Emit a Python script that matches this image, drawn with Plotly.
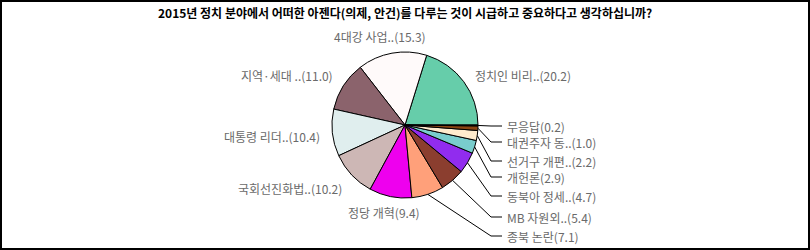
import math
import plotly.graph_objects as go

# ---- data ----
categories = ["정치인 비리..", "4대강 사업..", "지역·세대 ..", "대통령 리더..", "국회선진화법..",
              "정당 개혁", "종북 논란", "MB 자원외..", "동북아 정세..", "개헌론",
              "선거구 개편..", "대권주자 동..", "무응답"]
values = [20.2, 15.3, 11.0, 10.4, 10.2, 9.4, 7.1, 5.4, 4.7, 2.9, 2.2, 1.0, 0.2]
colors = ["#66CDAA", "#FFFAFA", "#8B636C", "#E0EEEE", "#CDB7B5", "#EE00EE", "#FFA07A",
          "#8B3E2F", "#912CEE", "#79CDCD", "#FFEBCD", "#8B4513", "#111111"]
title = "2015년 정치 분야에서 어떠한 아젠다(의제, 안건)를 다루는 것이 시급하고 중요하다고 생각하십니까?"

# ---- layout constants (pixels) ----
W, H = 810, 250
CX, CY, R = 405, 125, 73
FONT = "Noto Sans CJK KR, Noto Sans, sans-serif"
# label placement: (x, y, xanchor, leader)  leader=True -> stacked on right with elbow line
label_layout = [
    (473, 75, "left", False),
    (380, 36, "center", False),
    (335, 75, "right", False),
    (322, 136, "right", False),
    (344, 188, "right", False),
    (384, 212, "center", False),
    (505, 236, "left", True),
    (505, 217, "left", True),
    (505, 196, "left", True),
    (505, 177, "left", True),
    (505, 161, "left", True),
    (505, 142, "left", True),
    (505, 126, "left", True),
]
ELBOW_X, LINE_END_X = 491, 502

def px(x):
    return x / W

def py(y):
    return 1 - y / H

total = sum(values)
# plotly (counterclockwise): first slice occupies [rotation, rotation + v0] measured clockwise from 12
# we want the first slice to begin at 3 o'clock and run counterclockwise
rotation = 90 - 360 * values[0] / total

fig = go.Figure()
fig.add_trace(go.Pie(
    labels=categories, values=values, sort=False, direction="counterclockwise",
    rotation=rotation, textinfo="none", showlegend=False,
    marker=dict(colors=colors, line=dict(color="black", width=1)),
    domain=dict(x=[px(CX - R), px(CX + R)], y=[py(CY + R), py(CY - R)]),
))

shapes = []
annotations = []
cum = 0.0
for cat, v, (lx, ly, anchor, leader) in zip(categories, values, label_layout):
    mid = (cum + v / 2) / total * 2 * math.pi
    cum += v
    annotations.append(dict(
        x=px(lx), y=py(ly), xref="paper", yref="paper", xanchor=anchor, yanchor="middle",
        text=f"{cat}({v:.1f})", showarrow=False,
        font=dict(family=FONT, size=12, color="#6a6a6a"),
    ))
    if leader:
        sx = CX + R * math.cos(mid)
        sy = CY - R * math.sin(mid)
        path = f"M {px(sx)} {py(sy)} L {px(ELBOW_X)} {py(ly)} L {px(LINE_END_X)} {py(ly)}"
        shapes.append(dict(type="path", path=path, xref="paper", yref="paper",
                           line=dict(color="black", width=1)))

# outer border
shapes.append(dict(type="rect", xref="paper", yref="paper",
                   x0=px(1), x1=px(W - 1), y0=py(H - 1), y1=py(1),
                   line=dict(color="black", width=2)))

annotations.append(dict(
    x=0.5, y=py(12), xref="paper", yref="paper", xanchor="center", yanchor="middle",
    text=f"<b>{title}</b>", showarrow=False,
    font=dict(family=FONT, size=12, color="black"),
))

fig.update_layout(
    width=W, height=H, margin=dict(l=0, r=0, t=0, b=0),
    paper_bgcolor="white", plot_bgcolor="white",
    shapes=shapes, annotations=annotations,
)
fig.write_html("out.html")
